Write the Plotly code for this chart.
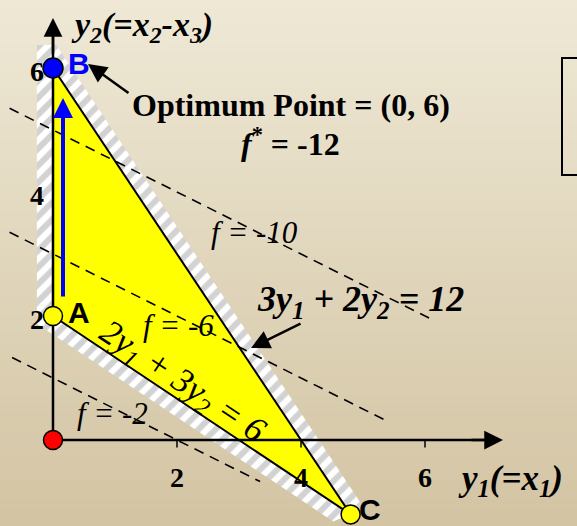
import plotly.graph_objects as go

# ---------------- data ----------------
vertex_names = ["A", "B", "C"]
vertex_y1 = [0.0, 0.0, 4.8]
vertex_y2 = [2.0, 6.0, -1.2]
origin_y1 = [0.0]
origin_y2 = [0.0]

# objective contours f = -(y1 + 2 y2)
f_values = [-2, -6, -10]
f_y1_start = [-0.66, -0.7, -0.7]
f_y1_end = [3.34, 5.35, 6.08]

x_ticks = [2, 4, 6]
y_ticks = [2, 4, 6]

# hatched (infeasible side) band outline
band_y1 = [-0.26, -0.26, 0.05, 5.02, 4.52]
band_y2 = [1.873, 6.37, 6.37, -1.1, -1.313]

# ---------------- geometry helpers ----------------
W, H = 577, 526
PX = 62.0
OX, OY = 53.0, 440.0


def d(px, py):
    return (px - OX) / PX, (OY - py) / PX


xr = [-OX / PX, (W - OX) / PX]
yr = [-(H - OY) / PX, OY / PX]

fig = go.Figure()

# background gradient
top = (238, 232, 213)
bot = (211, 196, 163)
N = 60
shapes = []
for i in range(N):
    t = i / (N - 1)
    c = tuple(int(round(top[k] + (bot[k] - top[k]) * t)) for k in range(3))
    shapes.append(dict(type="rect", xref="paper", yref="paper",
                       x0=0, x1=1, y1=1 - i / N, y0=1 - (i + 1) / N - 0.002,
                       fillcolor="rgb(%d,%d,%d)" % c, line=dict(width=0), layer="below"))
# box on the right
bx0, by1 = 562 / W, 1 - 58 / H
bx1, by0 = 1.2, 1 - 175 / H
shapes.append(dict(type="rect", xref="paper", yref="paper", x0=bx0, x1=bx1, y0=by0, y1=by1,
                   line=dict(color="black", width=2), fillcolor="rgba(0,0,0,0)", layer="above"))

# hatched band
fig.add_trace(go.Scatter(x=band_y1, y=band_y2, mode="lines", fill="toself",
                         fillcolor="white", line=dict(width=0),
                         fillpattern=dict(shape="/", bgcolor="white", fgcolor="#A5A5A5",
                                          size=12, solidity=0.5),
                         hoverinfo="skip", showlegend=False))

# feasible triangle
fig.add_trace(go.Scatter(x=vertex_y1 + [vertex_y1[0]], y=vertex_y2 + [vertex_y2[0]],
                         mode="lines", fill="toself", fillcolor="#FFFF00",
                         line=dict(color="black", width=2), showlegend=False, hoverinfo="skip"))

# objective contours
for fv, s, e in zip(f_values, f_y1_start, f_y1_end):
    xs = [s, e]
    ys = [(-fv - x) / 2 for x in xs]
    fig.add_trace(go.Scatter(x=xs, y=ys, mode="lines",
                             line=dict(color="black", width=1.6, dash="10px,7px"),
                             showlegend=False, hoverinfo="skip"))

# axes lines
fig.add_trace(go.Scatter(x=[0, 7.1], y=[0, 0], mode="lines", line=dict(color="black", width=2.5),
                         showlegend=False, hoverinfo="skip"))
fig.add_trace(go.Scatter(x=[0, 0], y=[0, 6.65], mode="lines", line=dict(color="black", width=2.5),
                         showlegend=False, hoverinfo="skip"))
# x ticks
for t in x_ticks:
    fig.add_trace(go.Scatter(x=[t, t], y=[0, -0.12], mode="lines", line=dict(color="black", width=1.5),
                             showlegend=False, hoverinfo="skip"))

# points
fig.add_trace(go.Scatter(x=origin_y1, y=origin_y2, mode="markers",
                         marker=dict(size=19, color="#FF0000", line=dict(color="black", width=1.5)),
                         showlegend=False, hoverinfo="skip"))
fig.add_trace(go.Scatter(x=[vertex_y1[0], vertex_y1[2]], y=[vertex_y2[0], vertex_y2[2]], mode="markers",
                         marker=dict(size=19, color="#FFFF00", line=dict(color="black", width=1.5)),
                         showlegend=False, hoverinfo="skip"))
fig.add_trace(go.Scatter(x=[vertex_y1[1]], y=[vertex_y2[1]], mode="markers",
                         marker=dict(size=20, color="#0000FF", line=dict(color="black", width=1.5)),
                         showlegend=False, hoverinfo="skip"))

ann = []
SERIF = "Liberation Serif, Times New Roman, serif"
SANS = "Liberation Sans, Arial, sans-serif"


def arrow(tail, tip, color="black", width=2.5, head=2, size=1.0):
    tx, ty = d(*tip)
    sx, sy = d(*tail)
    ann.append(dict(x=tx, y=ty, ax=sx, ay=sy, xref="x", yref="y", axref="x", ayref="y",
                    text="", showarrow=True, arrowhead=head, arrowsize=size,
                    arrowwidth=width, arrowcolor=color))


def label(px, py, text, size, family=SERIF, color="black", angle=0):
    x, y = d(px, py)
    ann.append(dict(x=x, y=y, xref="x", yref="y", text=text, showarrow=False,
                    font=dict(family=family, size=size, color=color), textangle=angle,
                    xanchor="center", yanchor="middle"))


# axis arrowheads
arrow((470, OY), (503, OY), head=2, size=1.5, width=2.5)
arrow((OX, 55), (OX, 18), head=2, size=1.5, width=2.5)
# blue direction arrow
arrow((63, 298), (63, 98), color="#0000FF", width=4, head=2, size=1.0)
# pointers
arrow((130, 94), (88, 64), head=2, size=1.5, width=2.5)
arrow((302, 323), (251, 348), head=2, size=1.5, width=2.5)

# axis titles
label(142, 27, "<b><i>y<sub>2</sub>(=x<sub>2</sub>-x<sub>3</sub>)</i></b>", 34)
label(510, 480, "<b><i>y<sub>1</sub>(=x<sub>1</sub>)</i></b>", 35)

# tick labels
for t in x_ticks:
    px = OX + t * PX
    label(px, 477, "<b>%d</b>" % t, 28)
for t in y_ticks:
    py = OY - t * PX
    label(37, py + 3, "<b>%d</b>" % t, 28)

# vertex labels
label(79, 63, "<b>B</b>", 30, SANS, "#0000FF")
label(79, 312, "<b>A</b>", 30, SANS)
label(370, 509, "<b>C</b>", 30, SANS)

# optimum text
label(291, 105, "<b>Optimum Point = (0, 6)</b>", 32)
label(290, 142, "<b><i>f</i><sup>*</sup> = -12</b>", 32)

# contour labels
label(254, 232, "<i>f = -10</i>", 31)
label(178, 325, "<i>f = -6</i>", 31)
label(112, 413, "<i>f = -2</i>", 31)

# constraint labels
label(360, 301, "<b><i>3y<sub>1</sub> + 2y<sub>2</sub> = 12</i></b>", 36)
label(182, 382, "<i>2y<sub>1</sub> + 3y<sub>2</sub> = 6</i>", 35, angle=33.7)

fig.update_layout(
    width=W, height=H, margin=dict(l=0, r=0, t=0, b=0),
    paper_bgcolor="rgb(225,215,190)", plot_bgcolor="rgba(0,0,0,0)",
    xaxis=dict(range=xr, visible=False, fixedrange=True),
    yaxis=dict(range=yr, visible=False, fixedrange=True),
    shapes=shapes, annotations=ann, showlegend=False,
)

fig.write_html("out.html", config={"displayModeBar": False},
               post_script="document.body.style.margin='0px';document.body.style.padding='0px';")
